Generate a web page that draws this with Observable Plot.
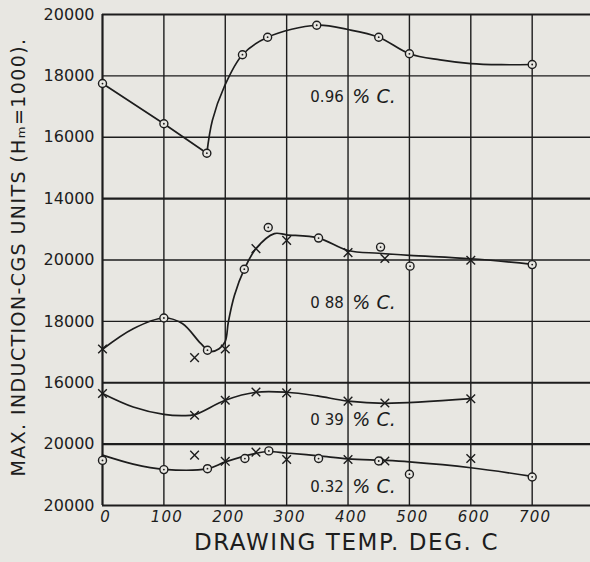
<!DOCTYPE html>
<html>
<head>
<meta charset="utf-8">
<script src="https://cdn.jsdelivr.net/npm/d3@7"></script>
<script src="https://cdn.jsdelivr.net/npm/@observablehq/plot@0.6"></script>
<style>
  html, body { margin: 0; padding: 0; background: #e8e7e2; }
  #chart svg { display: block; }
</style>
</head>
<body>
<div id="chart"></div>
<script>
// ---------- axis ticks ----------
const xTickVals = [0, 100, 200, 300, 400, 500, 600, 700];
// stacked panels share one vertical grid; each line carries its own printed label
const yTickVals = [20000, 18000, 16000, 14000, 12000, 10000, 8000, 6000, 4000];
const yTickLabels = ["20000", "18000", "16000", "14000", "20000", "18000", "16000", "20000", "20000"];
const thickY = [20000, 14000, 8000, 6000, 4000];

// ---------- panel offsets (panel value -> shared grid) ----------
const panelNames = ["0.96", "0 88", "0 39", "0.32"];
const panelOffsets = [0, -8000, -8000, -14000];
const panelLabelY = [17300, 18590, 14780, 18600];

// ---------- 0.96 % C ----------
const c96Temp = [0, 100, 170, 228, 269, 349, 450, 500, 700];
const c96Ind  = [17750, 16440, 15480, 18690, 19260, 19650, 19260, 18720, 18370];
const c96StraightTemp = [0, 100, 170];
const c96StraightInd  = [17750, 16440, 15480];
const c96CurveTemp = [170, 179, 198, 228, 269, 349, 400, 450, 500, 550, 600, 650, 700];
const c96CurveInd  = [15480, 16550, 17630, 18690, 19260, 19650, 19510, 19260, 18720, 18520, 18400, 18365, 18370];

// ---------- 0.88 % C ----------
const c88CircTemp = [100, 171, 231, 270, 352, 453, 501, 700];
const c88CircInd  = [18110, 17060, 19700, 21060, 20715, 20420, 19800, 19850];
const c88CrossTemp = [0, 150, 200, 250, 300, 400, 460, 600];
const c88CrossInd  = [17100, 16820, 17100, 20370, 20640, 20240, 20050, 19990];
const c88CurveTemp = [0, 50, 100, 130, 160, 175, 190, 200, 205, 215, 231, 250, 280, 300, 352, 400, 450, 500, 600, 700];
const c88CurveInd  = [17090, 17760, 18110, 17930, 17280, 17020, 17110, 17350, 17980, 18850, 19700, 20370, 20860, 20820, 20715, 20310, 20220, 20150, 20040, 19860];

// ---------- 0.39 % C ----------
const c39CrossTemp = [0, 150, 200, 250, 300, 400, 460, 600];
const c39CrossInd  = [15650, 14940, 15430, 15700, 15670, 15400, 15340, 15480];
const c39CurveTemp = [0, 50, 100, 130, 150, 200, 250, 300, 350, 400, 460, 600];
const c39CurveInd  = [15650, 15210, 14970, 14930, 14960, 15430, 15690, 15690, 15570, 15400, 15330, 15480];

// ---------- 0.32 % C ----------
const c32CircTemp = [0, 100, 171, 232, 271, 352, 450, 500, 700];
const c32CircInd  = [19470, 19170, 19200, 19530, 19780, 19530, 19450, 19020, 18930];
const c32CrossTemp = [150, 200, 250, 300, 400, 460, 600];
const c32CrossInd  = [19640, 19440, 19740, 19500, 19500, 19450, 19530];
const c32CurveTemp = [0, 50, 100, 171, 200, 250, 270, 300, 352, 400, 460, 500, 600, 700];
const c32CurveInd  = [19640, 19350, 19180, 19200, 19420, 19700, 19760, 19710, 19620, 19520, 19470, 19420, 19230, 18950];

const xLabel = "DRAWING TEMP. DEG. C";
const yLabel = "MAX. INDUCTION-CGS UNITS (Hₘ=1000).";

// ---------- build ----------
const ink = "#1d1d1d";
const bg = "#e8e7e2";
const rows = (ts, vs, off) => ts.map((t, i) => ({t, v: vs[i] + off}));
const labelMap = new Map(yTickVals.map((v, i) => [v, yTickLabels[i]]));

const circles = [
  ...rows(c96Temp, c96Ind, panelOffsets[0]),
  ...rows(c88CircTemp, c88CircInd, panelOffsets[1]),
  ...rows(c32CircTemp, c32CircInd, panelOffsets[3])
];
const crosses = [
  ...rows(c88CrossTemp, c88CrossInd, panelOffsets[1]),
  ...rows(c39CrossTemp, c39CrossInd, panelOffsets[2]),
  ...rows(c32CrossTemp, c32CrossInd, panelOffsets[3])
];
const curves = [
  rows(c96CurveTemp, c96CurveInd, panelOffsets[0]),
  rows(c88CurveTemp, c88CurveInd, panelOffsets[1]),
  rows(c39CurveTemp, c39CurveInd, panelOffsets[2]),
  rows(c32CurveTemp, c32CurveInd, panelOffsets[3])
];
const straight = rows(c96StraightTemp, c96StraightInd, panelOffsets[0]);
const labels = panelNames.map((n, i) => ({n, v: panelLabelY[i] + panelOffsets[i]}));

const lineOpts = {x: "t", y: "v", stroke: ink, strokeWidth: 1.7};

const chart = Plot.plot({
  width: 590,
  height: 562,
  marginLeft: 102,
  marginRight: 0,
  marginTop: 14,
  marginBottom: 57,
  x: {domain: [0, 795]},
  y: {domain: [4000, 20000]},
  style: {background: bg, color: ink, fontFamily: "DejaVu Sans"},
  marks: [
    Plot.ruleX(xTickVals.filter(d => d > 0), {stroke: ink, strokeWidth: 1.4}),
    Plot.ruleX([0], {stroke: ink, strokeWidth: 2.2}),
    Plot.ruleY(yTickVals.filter(d => !thickY.includes(d)), {stroke: ink, strokeWidth: 1.4}),
    Plot.ruleY(thickY, {stroke: ink, strokeWidth: 2.2}),
    Plot.line(straight, {...lineOpts, curve: "linear"}),
    ...curves.map(c => Plot.line(c, {...lineOpts, curve: "catmull-rom"})),
    Plot.dot(circles, {x: "t", y: "v", r: 4, stroke: ink, fill: bg, strokeWidth: 1.4}),
    Plot.dot(circles, {x: "t", y: "v", r: 0.9, fill: ink}),
    Plot.dot(crosses, {x: "t", y: "v", symbol: "times", r: 4, stroke: ink, strokeWidth: 1.4}),
    Plot.text(labels, {x: 393, y: "v", text: "n", textAnchor: "end", fontSize: 15, fill: ink}),
    Plot.text(labels, {x: 407, y: "v", text: () => "% C.", textAnchor: "start", fontSize: 19, fontStyle: "italic", fill: ink}),
    Plot.axisY(yTickVals, {tickSize: 0, tickPadding: 8, tickFormat: d => labelMap.get(d), fontSize: 16, label: null, fill: ink}),
    Plot.axisX(xTickVals, {tickSize: 0, tickPadding: 6, fontSize: 15, fontStyle: "italic", label: null, fill: ink, dx: 3}),
    Plot.text([xLabel], {frameAnchor: "bottom", dy: 44, textAnchor: "middle", fontSize: 23, fill: ink, text: d => d}),
    Plot.text([yLabel], {frameAnchor: "left", dx: -84, dy: -3, textAnchor: "middle", rotate: -90, fontSize: 19, fill: ink, text: d => d})
  ]
});
// letter spacing for the hand-lettered look
d3.select(chart).selectAll("text").each(function () {
  const t = this.textContent;
  if (t === xLabel) this.setAttribute("letter-spacing", "1.6");
  else if (t === yLabel) this.setAttribute("letter-spacing", "1.4");
  else if (xTickVals.map(String).includes(t)) this.setAttribute("letter-spacing", "1.2");
});
document.getElementById("chart").appendChild(chart);
</script>
</body>
</html>
